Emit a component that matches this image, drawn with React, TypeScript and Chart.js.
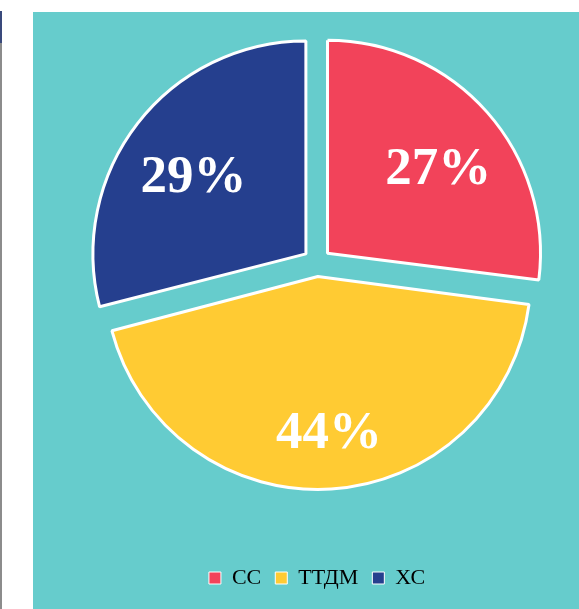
import React, { useEffect, useRef } from "react";
import { Chart, registerables } from "chart.js";

Chart.register(...registerables);

// Data
const categories = ["СС", "ТТДМ", "ХС"];
const values = [27, 44, 29];

// Styles
const sliceColors = ["#F2435A", "#FFCB33", "#253F8E"];
const TEAL = "#66CCCC";
const OFFSET = 56; // chart.js translates by offset/4
const RADIUS = 213;
const LABEL_FACTOR = 0.68;
const LABEL_NUDGE_X = 2;
const LABEL_NUDGE_Y = 13;
const SERIF = "'Liberation Serif', 'Times New Roman', serif";

const CANVAS_W = 579;
const CANVAS_H = 637;
const SHIFT = 28; // canvas top is 28px above page top

const backgroundPlugin = {
  id: "bgPanel",
  beforeDraw(chart: any) {
    const ctx = chart.ctx;
    ctx.save();
    ctx.fillStyle = TEAL;
    ctx.fillRect(33, 12 + SHIFT, CANVAS_W - 33, CANVAS_H - 12 - SHIFT);
    ctx.fillStyle = "#8c8c8c";
    ctx.fillRect(0, 12 + SHIFT, 2, CANVAS_H - 12 - SHIFT);
    ctx.fillStyle = "#3a4a7c";
    ctx.fillRect(0, 11 + SHIFT, 2, 32);
    ctx.restore();
  },
};

const radiusFixPlugin = {
  id: "radiusFix",
  afterDatasetsUpdate(chart: any) {
    const meta = chart.getDatasetMeta(0);
    meta.data.forEach((el: any) => {
      const circ = el.endAngle - el.startAngle;
      const fix = 1 - Math.sin(Math.min(Math.PI, circ));
      el.outerRadius = el.outerRadius - (OFFSET / 4) * fix;
    });
  },
};

const labelPlugin = {
  id: "sliceLabels",
  afterDatasetsDraw(chart: any) {
    const ctx = chart.ctx;
    const meta = chart.getDatasetMeta(0);
    const data = chart.data.datasets[0].data as number[];
    const total = data.reduce((a, b) => a + b, 0);
    ctx.save();
    ctx.fillStyle = "#ffffff";
    ctx.font = `bold 53px ${SERIF}`;
    ctx.textAlign = "center";
    ctx.textBaseline = "middle";
    meta.data.forEach((el: any, i: number) => {
      const mid = (el.startAngle + el.endAngle) / 2;
      const cx = el.x + Math.cos(mid) * (OFFSET / 4);
      const cy = el.y + Math.sin(mid) * (OFFSET / 4);
      const r = RADIUS * LABEL_FACTOR;
      const lx = cx + Math.cos(mid) * r + LABEL_NUDGE_X;
      const ly = cy + Math.sin(mid) * r + LABEL_NUDGE_Y;
      const pct = Math.round((data[i] / total) * 100) + "%";
      ctx.fillText(pct, lx, ly);
    });
    ctx.restore();
  },
};

export default function App() {
  const ref = useRef<HTMLCanvasElement | null>(null);

  useEffect(() => {
    if (!ref.current) return;
    const defaultGen = (Chart as any).overrides.pie.plugins.legend.labels.generateLabels;
    const chart = new Chart(ref.current, {
      type: "pie",
      data: {
        labels: categories,
        datasets: [
          {
            data: values,
            backgroundColor: sliceColors,
            borderColor: "#ffffff",
            borderWidth: 3,
            offset: OFFSET,
            hoverOffset: 0,
            radius: RADIUS,
          } as any,
        ],
      },
      options: {
        responsive: false,
        animation: false,
        layout: { padding: { left: 55, right: 0, top: 0, bottom: 10 } },
        plugins: {
          tooltip: { enabled: false },
          legend: {
            position: "bottom",
            labels: {
              boxWidth: 12,
              boxHeight: 12,
              padding: 14,
              color: "#000000",
              font: { family: SERIF, size: 22 },
              generateLabels(c: any) {
                const items = defaultGen(c);
                return items.map((it: any) => ({ ...it, lineWidth: 1, strokeStyle: "#ffffff" }));
              },
            },
          },
        },
      } as any,
      plugins: [backgroundPlugin, radiusFixPlugin, labelPlugin],
    });
    return () => chart.destroy();
  }, []);

  return (
    <div
      style={{
        position: "fixed",
        left: 0,
        top: 0,
        width: CANVAS_W,
        height: 609,
        overflow: "hidden",
        background: "#ffffff",
      }}
    >
      <canvas
        ref={ref}
        width={CANVAS_W}
        height={CANVAS_H}
        style={{ position: "absolute", left: 0, top: -SHIFT, width: CANVAS_W, height: CANVAS_H }}
      />
    </div>
  );
}
